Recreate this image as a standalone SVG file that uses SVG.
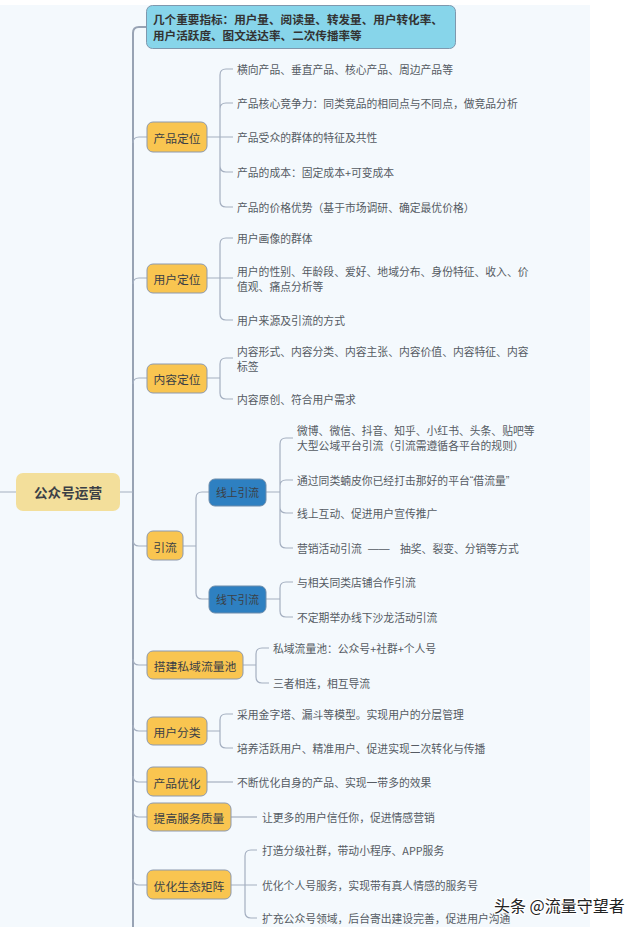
<svg xmlns="http://www.w3.org/2000/svg" width="640" height="927" viewBox="0 0 640 927">
<style>
text{font-family:"Noto Sans CJK SC","Noto Sans",sans-serif;dominant-baseline:central}
.t{font-size:10.8px;fill:#555b63}
.nt{font-size:11.8px;fill:#3b3f46;text-anchor:middle}
.o{fill:#f9c550;stroke:#8d99ad;stroke-width:1}
.b{fill:#2e80c1;stroke:#6c8cab;stroke-width:1}
.c{fill:none;stroke:#a4afc0;stroke-width:1.2}
.tr{fill:none;stroke:#98a3b4;stroke-width:2}
.q{font-family:"Liberation Sans",sans-serif}
</style>
<rect x="0" y="0" width="640" height="927" fill="#ffffff"/>
<rect x="0" y="5" width="590" height="922" fill="#f4f9fd"/>
<g id="connectors">
<path class="tr" d="M147,27 H139 Q133,27 133,33 V927"/>
<path class="c" d="M0,492 H16 M120,492 H133"/>
<path class="c" d="M133,143 Q133,137 139,137 H147 M133,284 Q133,278 139,278 H147 M133,384 Q133,378 139,378 H147 M133,540 Q133,546 139,546 H147 M133,659 Q133,665 139,665 H147 M133,725 Q133,731 139,731 H147 M133,776 Q133,782 139,782 H147 M133,811 Q133,817 139,817 H147 M133,879 Q133,885 139,885 H147"/>
<path class="c" d="M207,137 H233 M220,137 V75 Q220,69 226,69 H233 M220,137 V109 Q220,103 226,103 H233 M220,137 V166 Q220,172 226,172 H233 M220,137 V201 Q220,207 226,207 H233"/>
<path class="c" d="M207,278 H233 M220,278 V244 Q220,238 226,238 H233 M220,278 V314 Q220,320 226,320 H233"/>
<path class="c" d="M207,378 H220 M220,378 V364 Q220,358 226,358 H233 M220,378 V393 Q220,399 226,399 H233"/>
<path class="c" d="M183,546 H196 M196,546 V498 Q196,492 202,492 H209 M196,546 V593 Q196,599 202,599 H209"/>
<path class="c" d="M266,492 H280 M280,492 V444 Q280,438 286,438 H293 M280,492 V486 Q280,480 286,480 H293 M280,492 V507 Q280,513 286,513 H293 M280,492 V542 Q280,548 286,548 H293"/>
<path class="c" d="M266,599 H280 M280,599 V588 Q280,582 286,582 H293 M280,599 V611 Q280,617 286,617 H293"/>
<path class="c" d="M243,665 H256 M256,665 V654 Q256,648 262,648 H269 M256,665 V677 Q256,683 262,683 H269"/>
<path class="c" d="M207,731 H220 M220,731 V720 Q220,714 226,714 H233 M220,731 V742 Q220,748 226,748 H233"/>
<path class="c" d="M207,782 H233"/>
<path class="c" d="M231,817 H257"/>
<path class="c" d="M231,885 H257 M245,885 V856 Q245,850 251,850 H257 M245,885 V912 Q245,918 251,918 H257"/>
</g>
<g id="root">
<rect x="16" y="473" width="104" height="38" rx="7" fill="#f3df9b"/>
<text x="68" y="492" style="font-size:13.6px;font-weight:bold;fill:#3b3f46;text-anchor:middle">公众号运营</text>
</g>
<g id="metrics">
<rect x="146.5" y="5.5" width="309" height="43" rx="6" fill="#87d5ea" stroke="#7f98ae"/>
<text x="153" y="19" style="font-size:11.6px;font-weight:bold;fill:#333">几个重要指标：用户量、阅读量、转发量、用户转化率、<tspan x="153" y="35">用户活跃度、图文送达率、二次传播率等</tspan></text>
</g>
<g id="product">
<rect class="o" x="147" y="122" width="60" height="30" rx="6"/>
<text class="nt" x="177" y="137">产品定位</text>
<text class="t" x="237" y="69">横向产品、垂直产品、核心产品、周边产品等</text>
<text class="t" x="237" y="103">产品核心竞争力：同类竞品的相同点与不同点，做竞品分析</text>
<text class="t" x="237" y="137">产品受众的群体的特征及共性</text>
<text class="t" x="237" y="172">产品的成本：固定成本+可变成本</text>
<text class="t" x="237" y="207">产品的价格优势（基于市场调研、确定最优价格）</text>
</g>
<g id="user">
<rect class="o" x="147" y="264" width="60" height="29" rx="6"/>
<text class="nt" x="177" y="278">用户定位</text>
<text class="t" x="237" y="238">用户画像的群体</text>
<text class="t" x="237" y="271">用户的性别、年龄段、爱好、地域分布、身份特征、收入、价<tspan x="237" y="286">值观、痛点分析等</tspan></text>
<text class="t" x="237" y="320">用户来源及引流的方式</text>
</g>
<g id="content">
<rect class="o" x="147" y="364" width="60" height="29" rx="6"/>
<text class="nt" x="177" y="378">内容定位</text>
<text class="t" x="237" y="351">内容形式、内容分类、内容主张、内容价值、内容特征、内容<tspan x="237" y="366">标签</tspan></text>
<text class="t" x="237" y="399">内容原创、符合用户需求</text>
</g>
<g id="traffic">
<rect class="o" x="147" y="531" width="36" height="29" rx="6"/>
<text class="nt" x="165" y="546">引流</text>
</g>
<g id="online">
<rect class="b" x="209" y="479" width="57" height="27" rx="6"/>
<text class="nt" x="237.5" y="492" style="font-size:10.8px">线上引流</text>
<text class="t" x="297" y="430">微博、微信、抖音、知乎、小红书、头条、贴吧等<tspan x="297" y="445">大型公域平台引流（引流需遵循各平台的规则）</tspan></text>
<text class="t" x="297" y="480">通过同类蝻皮你已经打击那好的平台<tspan class="q">“</tspan>借流量<tspan class="q">”</tspan></text>
<text class="t" x="297" y="513">线上互动、促进用户宣传推广</text>
<text class="t" x="297" y="548">营销活动引流<tspan x="368" class="q">——</tspan><tspan x="400">抽奖、裂变、分销等方式</tspan></text>
</g>
<g id="offline">
<rect class="b" x="209" y="586" width="57" height="27" rx="6"/>
<text class="nt" x="237.5" y="599" style="font-size:10.8px">线下引流</text>
<text class="t" x="297" y="582">与相关同类店铺合作引流</text>
<text class="t" x="297" y="617">不定期举办线下沙龙活动引流</text>
</g>
<g id="pool">
<rect class="o" x="147" y="651" width="96" height="28" rx="6"/>
<text class="nt" x="195" y="665">搭建私域流量池</text>
<text class="t" x="273" y="648">私域流量池：公众号+社群+个人号</text>
<text class="t" x="273" y="683">三者相连，相互导流</text>
</g>
<g id="classify">
<rect class="o" x="147" y="717" width="60" height="28" rx="6"/>
<text class="nt" x="177" y="731">用户分类</text>
<text class="t" x="237" y="714">采用金字塔、漏斗等模型。实现用户的分层管理</text>
<text class="t" x="237" y="748">培养活跃用户、精准用户、促进实现二次转化与传播</text>
</g>
<g id="optimize">
<rect class="o" x="147" y="767" width="60" height="29" rx="6"/>
<text class="nt" x="177" y="782">产品优化</text>
<text class="t" x="237" y="782">不断优化自身的产品、实现一带多的效果</text>
</g>
<g id="service">
<rect class="o" x="147" y="803" width="84" height="28" rx="6"/>
<text class="nt" x="189" y="817">提高服务质量</text>
<text class="t" x="262" y="817">让更多的用户信任你，促进情感营销</text>
</g>
<g id="ecosystem">
<rect class="o" x="147" y="870" width="84" height="29" rx="6"/>
<text class="nt" x="189" y="885">优化生态矩阵</text>
<text class="t" x="262" y="850">打造分级社群，带动小程序、APP服务</text>
<text class="t" x="262" y="885">优化个人号服务，实现带有真人情感的服务号</text>
<text class="t" x="262" y="918">扩充公众号领域，后台寄出建设完善，促进用户沟通</text>
</g>
<text x="494" y="905" style="font-size:16px;fill:#222;stroke:#fff;stroke-width:2.5;paint-order:stroke;stroke-linejoin:round">头条 @流量守望者</text>
</svg>
